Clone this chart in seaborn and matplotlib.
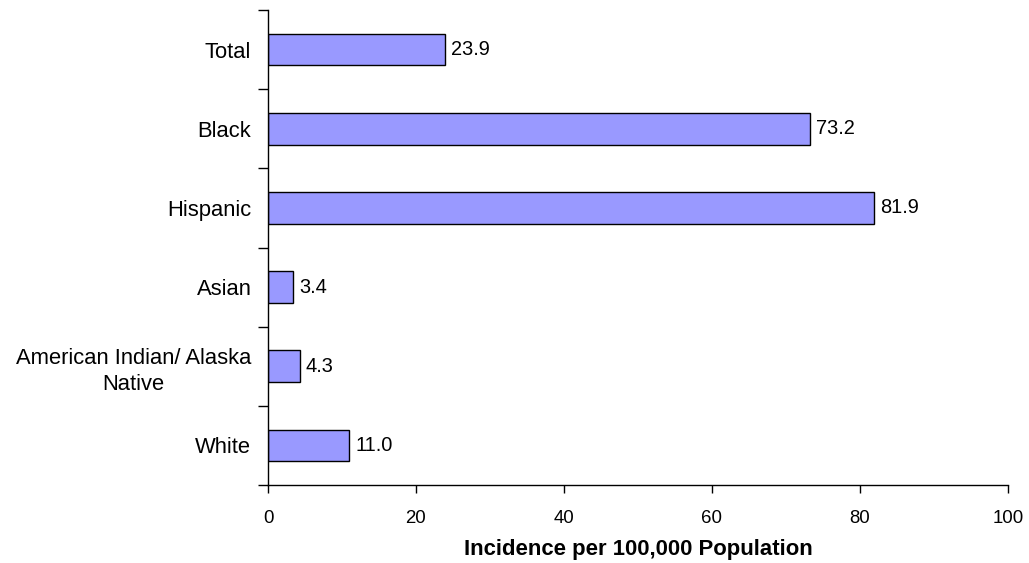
import matplotlib
matplotlib.use("Agg")
import matplotlib.pyplot as plt
import seaborn as sns
import pandas as pd

categories = ["Total", "Black", "Hispanic", "Asian", "American Indian/ Alaska\nNative", "White"]
values = [23.9, 73.2, 81.9, 3.4, 4.3, 11.0]
x_ticks = [0, 20, 40, 60, 80, 100]
x_label = "Incidence per 100,000 Population"

sns.set_theme(style="white")
plt.rcParams["font.family"] = ["Liberation Sans", "DejaVu Sans"]
plt.rcParams["text.color"] = "black"
plt.rcParams["axes.labelcolor"] = "black"
plt.rcParams["xtick.color"] = "black"
plt.rcParams["ytick.color"] = "black"

df = pd.DataFrame({"category": categories, "value": values})

fig = plt.figure(figsize=(10.29, 5.63), dpi=100)
ax = fig.add_axes([268/1029, 1-485/563, (1008-268)/1029, (485-10)/563])

sns.barplot(data=df, y="category", x="value", orient="h", color="#9999FF",
            edgecolor="black", linewidth=1, width=0.4, saturation=1, ax=ax)

ax.set_xlim(0, 100)
ax.set_ylim(len(categories) - 0.5, -0.5)
ax.set_xticks(x_ticks)
ax.set_xticklabels([str(t) for t in x_ticks], fontsize=13.4)
ax.set_yticks([i - 0.5 for i in range(len(categories) + 1)], minor=False)
ax.set_yticklabels([""] * (len(categories) + 1))
ax.set_yticks(range(len(categories)), minor=True)
ax.set_yticklabels(categories, minor=True, fontsize=15.8, ha="right")
ax.tick_params(axis="y", which="minor", length=0, pad=12)
ax.tick_params(axis="y", which="major", length=7, width=1, color="black", direction="out", left=True)
ax.tick_params(axis="x", length=6, width=1, color="black", direction="out", bottom=True, pad=12)
for lbl in ax.get_yticklabels(minor=True):
    lbl.set_multialignment("center")
    lbl.set_linespacing(1.35)

for i, v in enumerate(values):
    ax.text(v + 0.8, i, f"{v:.1f}", va="center", ha="left", fontsize=14.4, color="black")

for s in ["top", "right"]:
    ax.spines[s].set_visible(False)
for s in ["left", "bottom"]:
    ax.spines[s].set_color("black")
    ax.spines[s].set_linewidth(1)

ax.set_ylabel("")
ax.set_xlabel(x_label, fontsize=15.9, fontweight="bold", labelpad=9, color="black")

fig.savefig("out.png", dpi=100)
